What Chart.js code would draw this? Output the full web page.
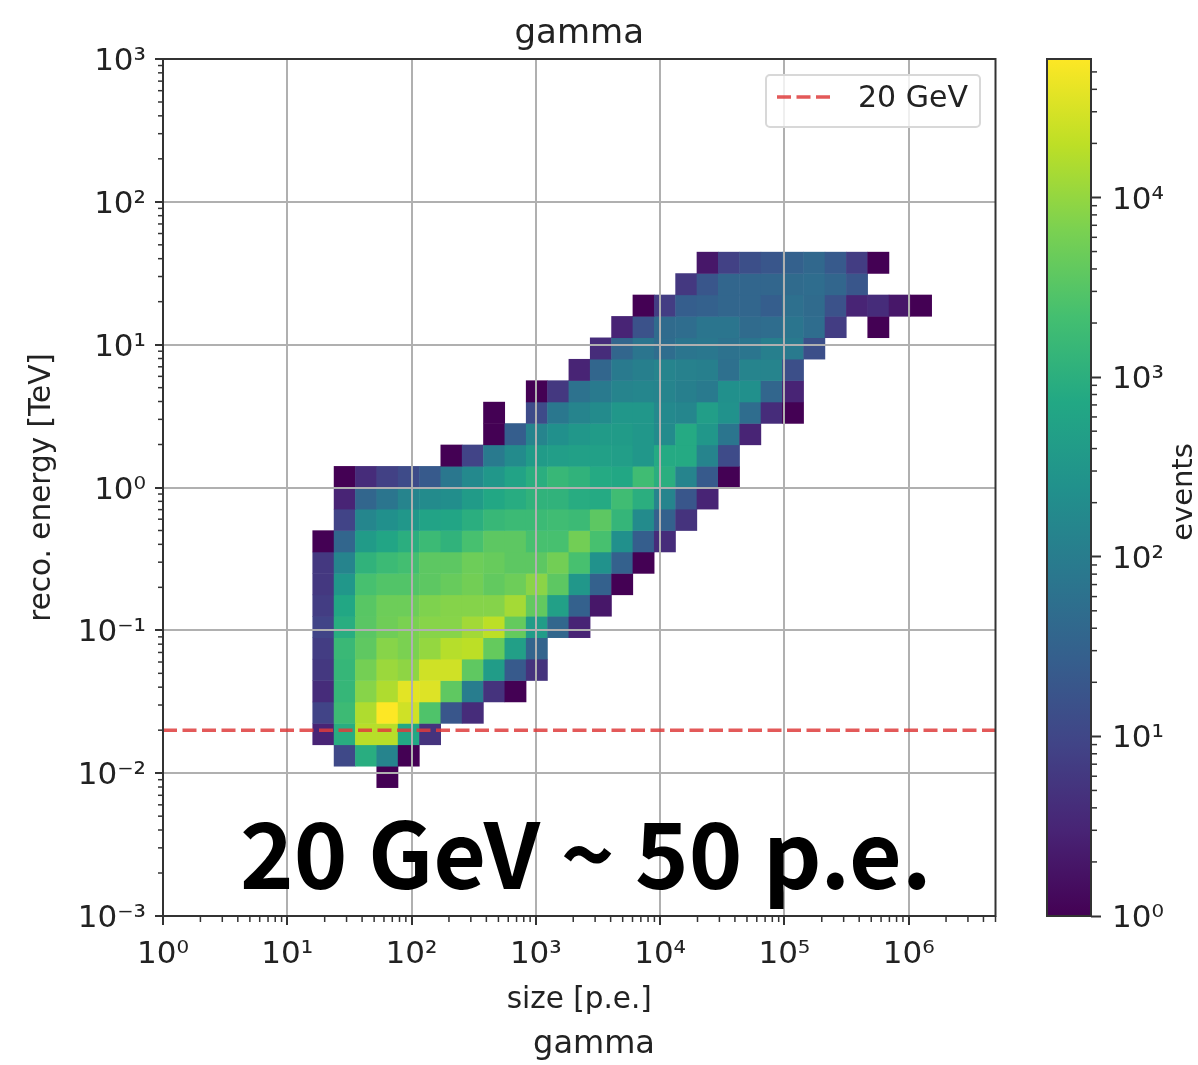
<!DOCTYPE html>
<html>
<head>
<meta charset="utf-8">
<title>gamma</title>
<script src="https://cdn.jsdelivr.net/npm/chart.js@4"></script>
<style>
body { margin: 0; background: #fff; }
#wrap { position: relative; width: 1198px; height: 1065px; overflow: hidden; }
canvas { position: absolute; top: 0; }
#heat { left: 0; }
#bar { left: 1000px; }
</style>
</head>
<body>
<div id="wrap">
<canvas id="heat" width="1000" height="1065"></canvas>
<canvas id="bar" width="198" height="1065"></canvas>
</div>
<script>
// histogram binning
var xBins = 39;
var yBins = 40;
var xMin = 1, xMax = 5e6;
var yMin = 1e-3, yMax = 1e3;
var eventsMax = 59000;
var energyCut = 0.02;

var xDecades = [1, 10, 100, 1000, 10000, 100000, 1000000];
var yDecades = [0.001, 0.01, 0.1, 1, 10, 100, 1000];
var barDecades = [1, 10, 100, 1000, 10000];

// row number (counted from the bottom of the y range) of each list below
var rowIndex = [6, 7, 8, 9, 10, 11, 12, 13, 14, 15, 16, 17, 18, 19, 20, 21, 22, 23, 24, 25, 26, 27, 28, 29, 30];
// first filled column of each row
var rowStart = [10, 8, 7, 7, 7, 7, 7, 7, 7, 7, 7, 7, 8, 8, 8, 13, 15, 15, 17, 19, 20, 21, 22, 24, 25];
// events, one list per row
var rowEvents = [
    [1],
    [11, 908, 140, 1],
    [3, 908, 18000, 18000, 730, 5],
    [9, 1750, 15700, 59000, 27000, 2720, 19, 4],
    [4, 1410, 8130, 15700, 38000, 34000, 3780, 101, 5, 1],
    [6, 1410, 5860, 11300, 9100, 27000, 27000, 3780, 420, 22, 5],
    [7, 1570, 3780, 8130, 6550, 10100, 17500, 19500, 4220, 470, 34],
    [9, 908, 3390, 5250, 6550, 8130, 8130, 12600, 19500, 4220, 420, 38, 3],
    [7, 700, 3300, 5000, 5000, 7000, 7800, 7800, 7800, 13000, 4000, 500, 30, 2],
    [6, 330, 2300, 2900, 2900, 3600, 4500, 5600, 4000, 5000, 8500, 3600, 330, 30, 1],
    [6, 135, 1200, 1700, 2100, 3600, 3600, 5000, 4500, 3600, 3600, 5600, 2300, 260, 30, 1],
    [1, 36, 400, 630, 980, 1700, 1200, 2300, 3600, 3600, 2300, 2300, 5600, 2300, 235, 26, 4],
    [9, 150, 235, 330, 570, 630, 980, 1500, 1700, 1700, 1900, 1700, 3600, 1350, 190, 30, 5],
    [3, 36, 70, 135, 190, 210, 400, 700, 880, 1200, 1200, 880, 790, 1900, 980, 135, 19, 3],
    [1, 4, 8, 12, 22, 78, 170, 330, 570, 980, 1500, 1200, 790, 700, 1900, 980, 135, 22, 1],
    [1, 9, 88, 190, 400, 450, 500, 500, 450, 330, 790, 790, 135, 12],
    [1, 26, 135, 235, 330, 400, 400, 330, 190, 790, 330, 70, 3],
    [1, null, 12, 78, 135, 190, 330, 330, 170, 150, 450, 260, 50, 4, 1],
    [1, 6, 63, 88, 135, 150, 135, 110, 88, 235, 235, 36, 3],
    [3, 36, 88, 110, 135, 120, 110, 56, 135, 135, 14],
    [4, 36, 70, 50, 70, 78, 63, 70, 110, 88, 14],
    [3, 16, 45, 50, 70, 70, 45, 50, 70, 50, 7, null, 1],
    [1, 7, 26, 30, 36, 36, 26, 56, 45, 16, 3, 4, 2, 1],
    [6, 19, 36, 36, 36, 45, 50, 36, 19],
    [2, 8, 14, 19, 30, 40, 22, 7, 1]
];

var viridis = ['#440154', '#482475', '#414487', '#355f8d', '#2a788e', '#21918c', '#22a884', '#44bf70', '#7ad151', '#bddf26', '#fde725'];

function hexRgb(h) {
    return [parseInt(h.substr(1, 2), 16), parseInt(h.substr(3, 2), 16), parseInt(h.substr(5, 2), 16)];
}

function cellColor(v) {
    var t = Math.log10(v) / Math.log10(eventsMax) * (viridis.length - 1);
    var k = Math.min(Math.floor(t), viridis.length - 2);
    var a = hexRgb(viridis[k]), b = hexRgb(viridis[k + 1]), f = t - k;
    return 'rgb(' + a.map(function (c, n) { return Math.round(c + (b[n] - c) * f); }).join(',') + ')';
}

function xEdge(i) { return Math.pow(10, Math.log10(xMax) * i / xBins); }
function yEdge(j) { return Math.pow(10, Math.log10(yMin) + Math.log10(yMax / yMin) * j / yBins); }

var cells = [];
rowEvents.forEach(function (row, r) {
    row.forEach(function (v, n) {
        if (v === null) return;
        var i = rowStart[r] + n, j = rowIndex[r];
        cells.push({ x0: xEdge(i), x1: xEdge(i + 1), y0: yEdge(j), y1: yEdge(j + 1), v: v });
    });
});

var superDigits = { '0': '⁰', '1': '¹', '2': '²', '3': '³', '4': '⁴', '5': '⁵', '6': '⁶', '-': '⁻' };
function powerLabel(v) {
    var e = String(Math.round(Math.log10(v)));
    return '10' + e.split('').map(function (c) { return superDigits[c]; }).join('');
}

var dark = '#333333';
var lineRed = 'rgba(222,60,60,0.85)';
var cutDash = [14, 5.5];
var fontName = '"DejaVu Sans"';
var tickFont = { family: fontName, size: 31 };

// side is 'bottom', 'left' or 'right'
function minorTicks(chart, scale, decades, length, side) {
    var ctx = chart.ctx, area = chart.chartArea;
    ctx.save();
    ctx.strokeStyle = dark;
    ctx.lineWidth = 1.5;
    decades.forEach(function (d) {
        for (var m = 2; m < 10; m++) {
            var v = d * m;
            if (v > scale.max) continue;
            var p = scale.getPixelForValue(v);
            ctx.beginPath();
            if (side === 'right') {
                ctx.moveTo(area.right, p);
                ctx.lineTo(area.right + length, p);
            } else if (side === 'left') {
                ctx.moveTo(area.left, p);
                ctx.lineTo(area.left - length, p);
            } else {
                ctx.moveTo(p, area.bottom);
                ctx.lineTo(p, area.bottom + length);
            }
            ctx.stroke();
        }
    });
    ctx.restore();
}

var heatCells = {
    id: 'heatCells',
    beforeDraw: function (chart) {
        var ctx = chart.ctx, sx = chart.scales.x, sy = chart.scales.y;
        cells.forEach(function (c) {
            var left = sx.getPixelForValue(c.x0), right = sx.getPixelForValue(c.x1);
            var top = sy.getPixelForValue(c.y1), bottom = sy.getPixelForValue(c.y0);
            ctx.fillStyle = cellColor(c.v);
            ctx.fillRect(left, top, right - left + 0.5, bottom - top + 0.5);
        });
    }
};

var frameAndText = {
    id: 'frameAndText',
    afterDraw: function (chart) {
        var ctx = chart.ctx, a = chart.chartArea;
        ctx.save();
        ctx.strokeStyle = dark;
        ctx.lineWidth = 2;
        ctx.strokeRect(a.left, a.top, a.right - a.left, a.bottom - a.top);
        ctx.restore();
        minorTicks(chart, chart.scales.x, xDecades, 6, 'bottom');
        minorTicks(chart, chart.scales.y, yDecades, 5, 'left');

        // legend box
        ctx.save();
        ctx.fillStyle = 'rgba(255,255,255,0.8)';
        ctx.strokeStyle = '#d8d8d8';
        ctx.lineWidth = 2;
        ctx.beginPath();
        ctx.roundRect(766, 75, 214, 52, 4);
        ctx.fill();
        ctx.stroke();
        ctx.strokeStyle = lineRed;
        ctx.lineWidth = 3.5;
        ctx.setLineDash(cutDash);
        ctx.beginPath();
        ctx.moveTo(777, 97);
        ctx.lineTo(835, 97);
        ctx.stroke();
        ctx.setLineDash([]);
        ctx.fillStyle = '#222';
        ctx.font = '30px ' + fontName;
        ctx.textAlign = 'left';
        ctx.textBaseline = 'middle';
        ctx.fillText('20 GeV', 858, 99);

        // annotations added over the plot
        ctx.fillStyle = '#000';
        ctx.font = 'bold 91px "Noto Sans CJK JP"';
        ctx.textBaseline = 'alphabetic';
        ctx.fillText('20 GeV ~ 50 p.e.', 240, 889);
        ctx.fillStyle = '#222';
        ctx.font = '32px ' + fontName;
        ctx.textAlign = 'center';
        ctx.textBaseline = 'middle';
        ctx.fillText('gamma', 594, 1045);
        ctx.restore();
    }
};

new Chart(document.getElementById('heat'), {
    type: 'scatter',
    data: {
        datasets: [{
            label: '20 GeV',
            data: [{ x: xMin, y: energyCut }, { x: xMax, y: energyCut }],
            showLine: true,
            pointRadius: 0,
            borderColor: lineRed,
            borderWidth: 3.5,
            borderDash: cutDash
        }]
    },
    options: {
        responsive: false,
        animation: false,
        layout: { padding: { right: 4.5 } },
        plugins: {
            legend: { display: false },
            tooltip: { enabled: false },
            title: {
                display: true,
                text: 'gamma',
                fullSize: false,
                color: '#222',
                font: { family: fontName, size: 34, weight: 'normal', lineHeight: 1.2 },
                padding: { top: 14, bottom: 4.2 }
            }
        },
        scales: {
            x: {
                type: 'logarithmic',
                min: xMin,
                max: xMax,
                afterBuildTicks: function (s) { s.ticks = xDecades.map(function (v) { return { value: v }; }); },
                afterFit: function (s) { s.height = 149; },
                grid: { color: '#b0b0b0', lineWidth: 2, tickColor: dark, tickWidth: 2, tickLength: 9 },
                border: { display: false },
                ticks: { callback: powerLabel, font: tickFont, color: '#222', maxRotation: 0, autoSkip: false, padding: 11 },
                title: { display: true, text: 'size [p.e.]', color: '#222', font: { family: fontName, size: 29.5 }, padding: { bottom: 47 } }
            },
            y: {
                type: 'logarithmic',
                min: yMin,
                max: yMax,
                afterBuildTicks: function (s) { s.ticks = yDecades.map(function (v) { return { value: v }; }); },
                afterFit: function (s) { s.width = 163; },
                grid: { color: '#b0b0b0', lineWidth: 2, tickColor: dark, tickWidth: 2, tickLength: 8 },
                border: { display: false },
                ticks: { callback: powerLabel, font: tickFont, color: '#222', autoSkip: false, padding: 9, labelOffset: 3 },
                title: { display: true, text: 'reco. energy [TeV]', color: '#222', font: { family: fontName, size: 29.5 }, padding: { top: 25 } }
            }
        }
    },
    plugins: [heatCells, frameAndText]
});

var barDecoration = {
    id: 'barDecoration',
    afterDraw: function (chart) {
        var ctx = chart.ctx, a = chart.chartArea;
        ctx.save();
        ctx.strokeStyle = dark;
        ctx.lineWidth = 2;
        ctx.strokeRect(a.left, a.top, a.right - a.left, a.bottom - a.top);
        ctx.restore();
        minorTicks(chart, chart.scales.y, barDecades, 6, 'right');
        ctx.save();
        ctx.fillStyle = '#222';
        ctx.font = '29px ' + fontName;
        ctx.textAlign = 'center';
        ctx.textBaseline = 'middle';
        ctx.translate(184, 492);
        ctx.rotate(-Math.PI / 2);
        ctx.fillText('events', 0, 0);
        ctx.restore();
    }
};

new Chart(document.getElementById('bar'), {
    type: 'bar',
    data: {
        labels: ['events'],
        datasets: [{
            data: [[1, eventsMax]],
            barPercentage: 1,
            categoryPercentage: 1,
            backgroundColor: function (c) {
                var a = c.chart.chartArea;
                if (!a) return viridis[0];
                var g = c.chart.ctx.createLinearGradient(0, a.bottom, 0, a.top);
                viridis.forEach(function (col, k) { g.addColorStop(k / (viridis.length - 1), col); });
                return g;
            }
        }]
    },
    options: {
        responsive: false,
        animation: false,
        layout: { padding: { left: 47, top: 59, bottom: 149 } },
        plugins: { legend: { display: false }, tooltip: { enabled: false } },
        scales: {
            x: { display: false },
            y: {
                type: 'logarithmic',
                position: 'right',
                min: 1,
                max: eventsMax,
                afterBuildTicks: function (s) { s.ticks = barDecades.map(function (v) { return { value: v }; }); },
                afterFit: function (s) { s.width = 107; },
                grid: { drawOnChartArea: false, tickColor: dark, tickWidth: 2, tickLength: 10 },
                border: { display: false },
                ticks: { callback: powerLabel, font: tickFont, color: '#222', autoSkip: false, padding: 11, labelOffset: 3 }
            }
        }
    },
    plugins: [barDecoration]
});
</script>
</body>
</html>
